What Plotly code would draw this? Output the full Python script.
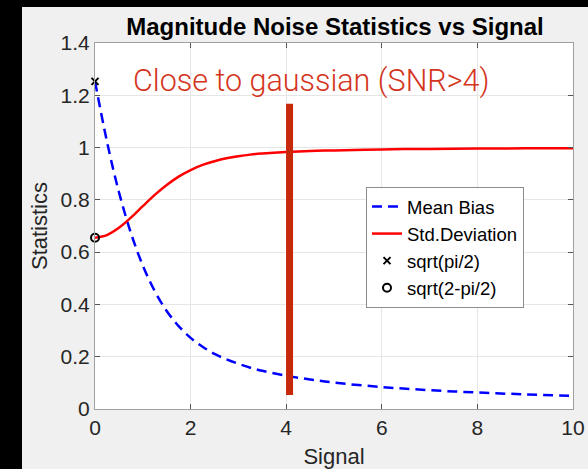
import plotly.graph_objects as go

# ---- data ----
signal = [0, 0.25, 0.5, 0.75, 1, 1.25, 1.5, 1.75, 2, 2.25, 2.5, 2.75, 3, 3.25, 3.5, 4, 4.5, 5, 6, 7, 8, 9, 10]
mean_bias = [1.253, 1.023, 0.830, 0.674, 0.549, 0.451, 0.375, 0.317, 0.272, 0.238, 0.211, 0.190,
             0.173, 0.158, 0.146, 0.127, 0.113, 0.101, 0.084, 0.072, 0.063, 0.056, 0.050]
std_dev = [0.655, 0.665, 0.693, 0.732, 0.776, 0.819, 0.857, 0.889, 0.914, 0.934, 0.948, 0.959,
           0.967, 0.973, 0.977, 0.983, 0.987, 0.989, 0.993, 0.995, 0.996, 0.997, 0.997]

sqrt_pi_2_x = [0]
sqrt_pi_2_y = [1.2533]
sqrt_2_pi_2_x = [0]
sqrt_2_pi_2_y = [0.6551]

band_x = [4.07, 4.07]
band_y = [0.054, 1.168]

x_ticks = [0, 2, 4, 6, 8, 10]
x_ticktext = ["0", "2", "4", "6", "8", "10"]
y_ticks = [0, 0.2, 0.4, 0.6, 0.8, 1.0, 1.2, 1.4]
y_ticktext = ["0", "0.2", "0.4", "0.6", "0.8", "1", "1.2", "1.4"]

FONT = "Liberation Sans, Arial, Helvetica, sans-serif"

fig = go.Figure()
fig.add_trace(go.Scatter(x=signal, y=mean_bias, mode="lines", name="Mean Bias",
                         line=dict(color="#0000ff", width=2.5, dash="10px,6px", shape="spline")))
fig.add_trace(go.Scatter(x=signal, y=std_dev, mode="lines", name="Std.Deviation",
                         line=dict(color="#ff0000", width=2.5, shape="spline")))
fig.add_trace(go.Scatter(x=sqrt_pi_2_x, y=sqrt_pi_2_y, mode="markers", name="sqrt(pi/2)",
                         marker=dict(symbol="x-thin", size=7, color="black",
                                     line=dict(color="black", width=2)),
                         cliponaxis=False))
fig.add_trace(go.Scatter(x=sqrt_2_pi_2_x, y=sqrt_2_pi_2_y, mode="markers", name="sqrt(2-pi/2)",
                         marker=dict(symbol="circle-open", size=8, color="black",
                                     line=dict(color="black", width=2)),
                         cliponaxis=False))
fig.add_trace(go.Scatter(x=band_x, y=band_y, mode="lines", showlegend=False, hoverinfo="skip",
                         line=dict(color="#c8280a", width=7)))

W, H = 588, 469
L, R, T, B = 95, 15, 43, 60
pw, ph = W - L - R, H - T - B

def px2paper_x(px):
    return (px - L) / pw

def px2paper_y(py):
    return (H - B - py) / ph

shapes = [
    dict(type="rect", xref="paper", yref="paper", layer="below",
         x0=px2paper_x(-2), x1=px2paper_x(22), y0=px2paper_y(H + 2), y1=px2paper_y(-2),
         fillcolor="black", line=dict(width=0)),
    dict(type="rect", xref="paper", yref="paper", layer="below",
         x0=px2paper_x(-2), x1=px2paper_x(W + 2), y0=px2paper_y(7), y1=px2paper_y(-2),
         fillcolor="black", line=dict(width=0)),
]

fig.update_layout(
    width=W, height=H,
    margin=dict(l=L, r=R, t=T, b=B, pad=0, autoexpand=False),
    paper_bgcolor="#f0f0f0",
    plot_bgcolor="white",
    font=dict(family=FONT, color="#262626"),
    title=dict(text="<b>Magnitude Noise Statistics vs Signal</b>",
               font=dict(family=FONT, size=24, color="black"),
               x=px2paper_x(335), xref="paper", xanchor="center",
               y=1 - 35 / H, yref="container", yanchor="bottom"),
    showlegend=True,
    legend=dict(x=px2paper_x(366), y=px2paper_y(187), xanchor="left", yanchor="top",
                bgcolor="white", bordercolor="#8c8c8c", borderwidth=1,
                font=dict(family=FONT, size=18.5, color="black"),
                tracegroupgap=0),
    shapes=shapes,
    annotations=[dict(text="Close to gaussian (SNR>4)", x=px2paper_x(131), y=px2paper_y(81),
                      xref="paper", yref="paper", xanchor="left", yanchor="middle",
                      showarrow=False,
                      font=dict(family="Roboto, Liberation Sans, Arial, sans-serif",
                                size=30.5, weight=300, color="#d4341c"))],
)

fig.update_xaxes(range=[0, 10], tickvals=x_ticks, ticktext=x_ticktext, automargin=False,
                 showgrid=True, gridcolor="#e6e6e6", gridwidth=1,
                 showline=True, linecolor="#a0a0a0", linewidth=1, mirror="ticks",
                 ticks="inside", ticklen=5, tickcolor="#555555", zeroline=False,
                 tickfont=dict(size=21, color="#262626"),
                 title=dict(text="Signal", font=dict(size=22, color="#262626"), standoff=11))
fig.update_yaxes(range=[0, 1.4], tickvals=y_ticks, ticktext=y_ticktext, automargin=False,
                 showgrid=True, gridcolor="#e6e6e6", gridwidth=1,
                 showline=True, linecolor="#a0a0a0", linewidth=1, mirror="ticks",
                 ticks="inside", ticklen=5, tickcolor="#555555", zeroline=False,
                 tickfont=dict(size=21, color="#262626"),
                 title=dict(text="Statistics", font=dict(size=22, color="#262626"), standoff=6))

fig.write_html("out.html")
